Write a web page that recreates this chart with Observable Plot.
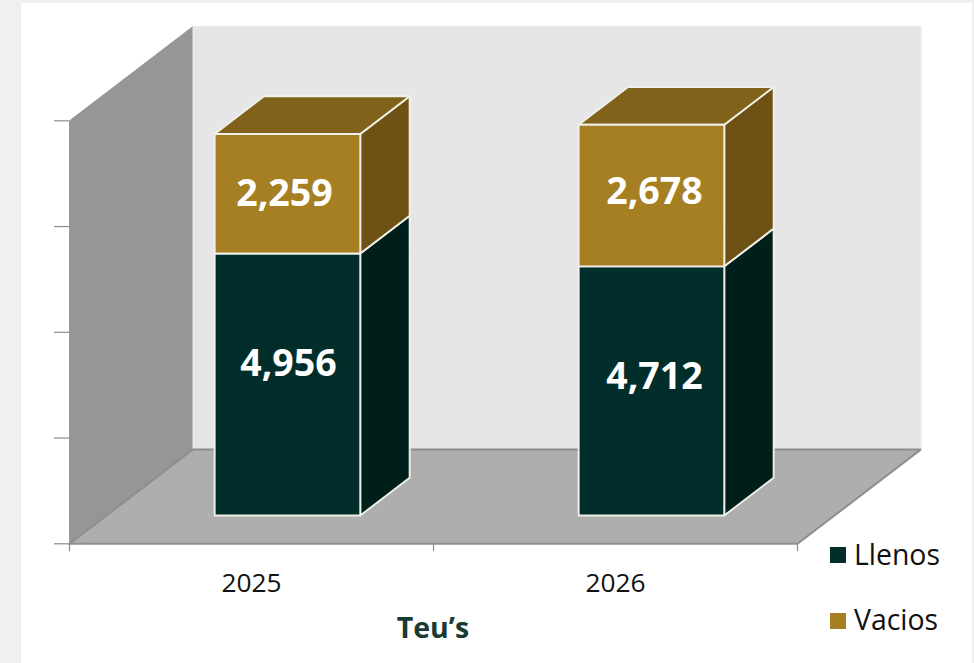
<!DOCTYPE html>
<html><head><meta charset="utf-8">
<script src="https://cdn.jsdelivr.net/npm/d3@7"></script>
<script src="https://cdn.jsdelivr.net/npm/@observablehq/plot@0.6"></script>
<style>
html,body{margin:0;padding:0;width:974px;height:663px;overflow:hidden;background:#f0f0f0;font-family:"Open Sans",sans-serif}
#panel{position:absolute;left:21px;top:3px;width:951px;height:660px;background:#fff}
#chart{position:absolute;left:0;top:0}
#chart svg{background:transparent;display:block}
.key{position:absolute;width:16px;height:16px}
.lab{position:absolute;left:854px;font-size:28.4px;line-height:32px;color:#111}
#title{position:absolute;left:333px;width:200px;text-align:center;top:609px;font-size:28.5px;line-height:36px;font-weight:700;color:#1a3a34}
</style></head><body>
<div id="panel"></div><div id="chart"></div>
<div class="key" style="left:830px;top:547px;background:#012e2b"></div><div class="lab" id="l0" style="top:538px"></div>
<div class="key" style="left:830px;top:613px;background:#a67f22"></div><div class="lab" id="l1" style="top:603px"></div>
<div id="title"></div>
<script>
const years = ["2025", "2026"];
const llenos = [4956, 4712];
const vacios = [2259, 2678];
const seriesNames = ["Llenos", "Vacios"];
const axisTitle = "Teu\u2019s";
const yTicks = [0, 2000, 4000, 6000, 8000];

const Y_MAX = 8000, X_MAX = years.length;
const DEPTH_X = 0.3393, DEPTH_Y = 1785;   // oblique projection of depth, in data units
const BAR_W = 0.4, BAR_D0 = 0.3, BAR_D1 = 0.7;
const labelNudge = {Llenos: [[1, -20], [3, -14]], Vacios: [[-3, 0], [3, -4]]};

const pt = (x, v, d) => ({x: x + d * DEPTH_X, y: v + d * DEPTH_Y});
const face = (pts, fill, stroke, strokeWidth) =>
  Plot.line([...pts, pts[0]], {x: "x", y: "y", fill, stroke, strokeWidth, strokeLinejoin: "miter", curve: "linear"});

const marks = [
  face([pt(0,0,0), pt(0,Y_MAX,0), pt(0,Y_MAX,1), pt(0,0,1)], "#969696", "#8e8e8e", 0.8),
  face([pt(0,0,1), pt(0,Y_MAX,1), pt(X_MAX,Y_MAX,1), pt(X_MAX,0,1)], "#e6e6e6", "#ececec", 1),
  face([pt(0,0,0), pt(X_MAX,0,0), pt(X_MAX,0,1), pt(0,0,1)], "#aeaeae", "#8e8e8e", 2)
];
const EDGE = "#f0f0ea", EW = 1.9;
years.forEach((_, i) => {
  const c = i + 0.5 - 0.003, l = c - BAR_W / 2, r = c + BAR_W / 2;
  const a = llenos[i], b = a + vacios[i];
  marks.push(
    face([pt(r,0,BAR_D0), pt(r,a,BAR_D0), pt(r,a,BAR_D1), pt(r,0,BAR_D1)], "#001f1a", EDGE, EW),
    face([pt(l,0,BAR_D0), pt(r,0,BAR_D0), pt(r,a,BAR_D0), pt(l,a,BAR_D0)], "#012e2b", EDGE, EW),
    face([pt(r,a,BAR_D0), pt(r,b,BAR_D0), pt(r,b,BAR_D1), pt(r,a,BAR_D1)], "#6e5215", EDGE, EW),
    face([pt(l,b,BAR_D0), pt(r,b,BAR_D0), pt(r,b,BAR_D1), pt(l,b,BAR_D1)], "#80621a", EDGE, EW),
    face([pt(l,a,BAR_D0), pt(r,a,BAR_D0), pt(r,b,BAR_D0), pt(l,b,BAR_D0)], "#a67f22", EDGE, EW)
  );
  const fmt = d3.format(",");
  const lab = (v, mid, nudge) => Plot.text([pt(c, mid, BAR_D0)], {
    x: "x", y: "y", text: () => fmt(v), dx: nudge[0], dy: nudge[1],
    fill: "#fff", fontSize: 37.5, fontWeight: 700, fontFamily: "Open Sans", textAnchor: "middle", lineAnchor: "middle"
  });
  marks.push(lab(a, a / 2, labelNudge.Llenos[i]), lab(vacios[i], a + vacios[i] / 2, labelNudge.Vacios[i]));
});
marks.push(
  Plot.axisY({ticks: yTicks, tickFormat: () => "", tickSize: 15, stroke: "#8c8c8c", label: null, strokeWidth: 1.2}),
  Plot.axisX({ticks: [0, 1, 2], tickFormat: () => "", tickSize: 8, stroke: "#8c8c8c", label: null, strokeWidth: 1.2}),
  Plot.axisX({ticks: years.map((_, i) => i + 0.5), tickFormat: t => years[t - 0.5], tickSize: 0, tickPadding: 30,
    fill: "#111", fontSize: 26.3, fontFamily: "Open Sans", label: null})
);

const chart = Plot.plot({
  width: 974, height: 663,
  marginLeft: 69, marginRight: 177, marginTop: 120.3, marginBottom: 119.7,
  style: {background: "transparent", overflow: "visible"},
  x: {domain: [0, X_MAX]},
  y: {domain: [0, Y_MAX]},
  marks
});
document.getElementById("chart").append(chart);
document.getElementById("l0").textContent = seriesNames[0];
document.getElementById("l1").textContent = seriesNames[1];
document.getElementById("title").textContent = axisTitle;
</script></body></html>
